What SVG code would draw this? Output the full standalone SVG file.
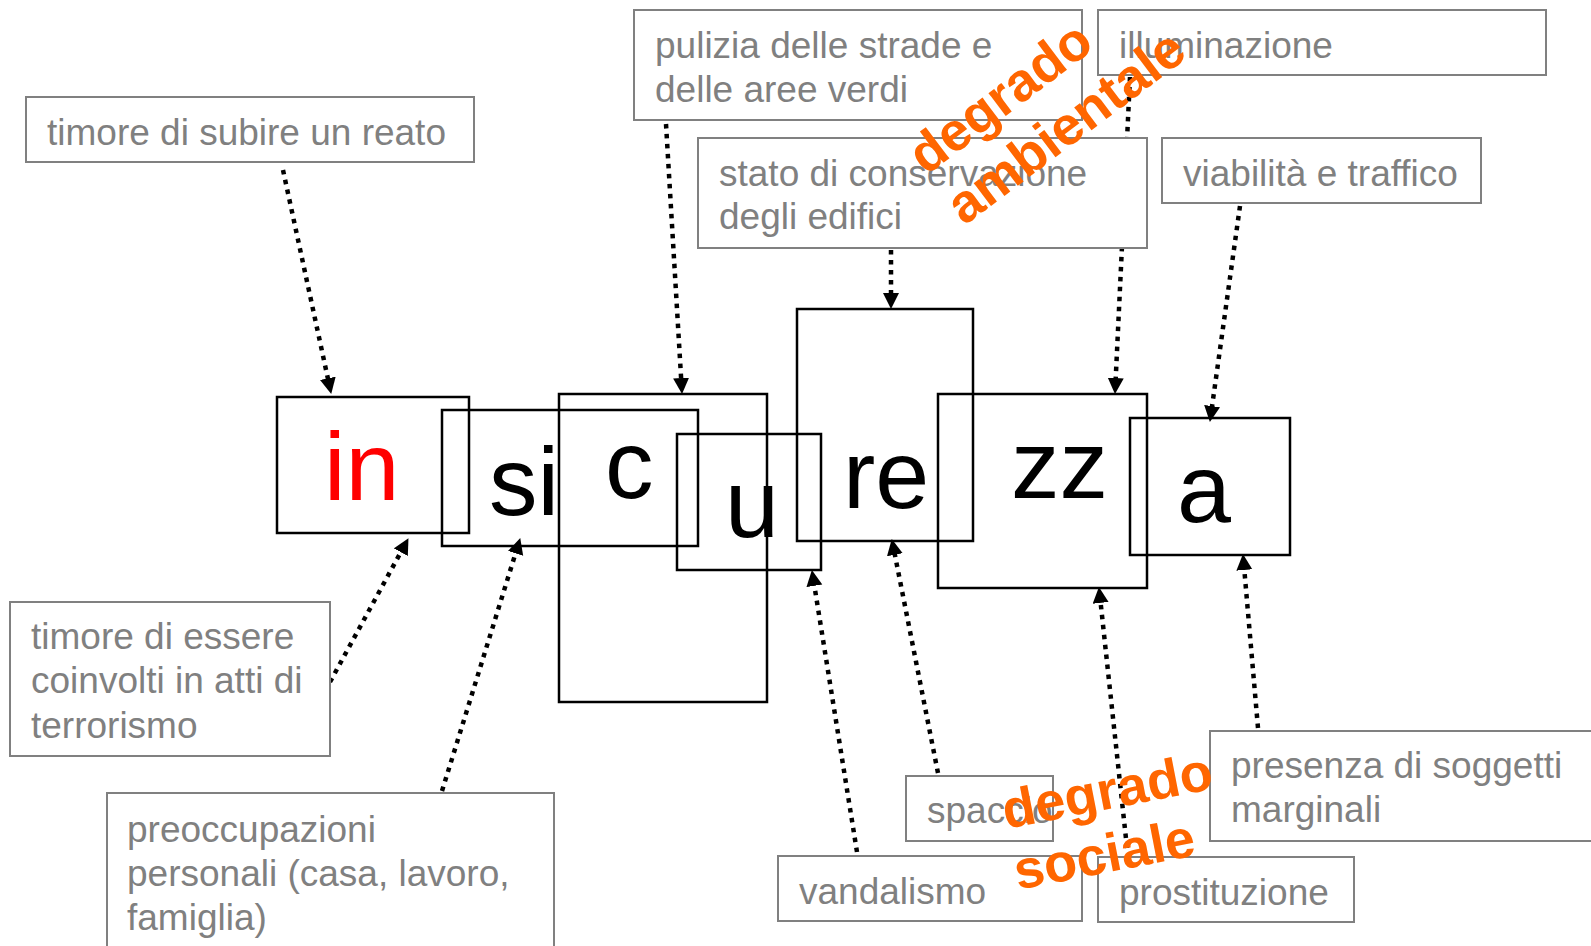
<svg xmlns="http://www.w3.org/2000/svg" width="1591" height="946" viewBox="0 0 1591 946">
<defs>
<style>
.lbl rect{fill:#fff;stroke:#808080;stroke-width:2}
.lbl text{font-family:"Liberation Sans",Arial,sans-serif;font-size:37px;fill:#808080}
.let rect{fill:none;stroke:#000;stroke-width:2.5}
.let text{font-family:"Liberation Sans",Arial,sans-serif;font-size:97px;fill:#000}
.con line{stroke:#000;stroke-width:4.5;stroke-dasharray:4.5 5.5;marker-end:url(#ah)}
.org{font-family:"Liberation Sans",Arial,sans-serif;font-weight:bold;font-size:54px;fill:#FF6600}
</style>
<marker id="ah" markerWidth="17" markerHeight="17" refX="5" refY="8" orient="auto" markerUnits="userSpaceOnUse"><path d="M0,0 L16,8 L0,16 z" fill="#000"/></marker>
</defs>
<rect width="1591" height="946" fill="#fff"/>
<g id="connectors" class="con">
<line x1="283" y1="170" x2="328.9" y2="383.2"/>
<line x1="666" y1="124" x2="681.4" y2="383"/>
<line x1="891" y1="250" x2="891" y2="298"/>
<line x1="1130" y1="77" x2="1115.5" y2="383"/>
<line x1="1240" y1="206" x2="1211.4" y2="411"/>
<line x1="330" y1="682" x2="403.2" y2="547.8"/>
<line x1="442" y1="791" x2="517" y2="548.6"/>
<line x1="857" y1="852" x2="813.6" y2="580.9"/>
<line x1="938" y1="773" x2="893.9" y2="549.8"/>
<line x1="1127" y1="848" x2="1100.1" y2="597.9"/>
<line x1="1258" y1="728" x2="1243.9" y2="565"/>
</g>
<g id="n-reato" class="lbl"><rect x="26" y="97" width="448" height="65"/><text x="47" y="144.5">timore di subire un reato</text></g>
<g id="n-pulizia" class="lbl"><rect x="634" y="10" width="448" height="110"/><text x="655" y="57.5">pulizia delle strade e</text><text x="655" y="101.5">delle aree verdi</text></g>
<g id="n-illuminazione" class="lbl"><rect x="1098" y="10" width="448" height="65"/><text x="1119" y="57.5">illuminazione</text></g>
<g id="n-stato" class="lbl"><rect x="698" y="138" width="449" height="110"/><text x="719" y="186">stato di conservazione</text><text x="719" y="229">degli edifici</text></g>
<g id="n-viabilita" class="lbl"><rect x="1162" y="138" width="319" height="65"/><text x="1183" y="186">viabilità e traffico</text></g>
<g id="n-terrorismo" class="lbl"><rect x="10" y="602" width="320" height="154"/><text x="31" y="649">timore di essere</text><text x="31" y="693">coinvolti in atti di</text><text x="31" y="738">terrorismo</text></g>
<g id="n-preoccupazioni" class="lbl"><rect x="107" y="793" width="447" height="170"/><text x="127" y="841.5">preoccupazioni</text><text x="127" y="885.5">personali (casa, lavoro,</text><text x="127" y="929.5">famiglia)</text></g>
<g id="n-spaccio" class="lbl"><rect x="906" y="776" width="147" height="65"/><text x="927" y="823">spaccio</text></g>
<g id="n-vandalismo" class="lbl"><rect x="778" y="856" width="304" height="65"/><text x="799" y="904">vandalismo</text></g>
<g id="n-prostituzione" class="lbl"><rect x="1098" y="857" width="256" height="65"/><text x="1119" y="905">prostituzione</text></g>
<g id="n-presenza" class="lbl"><rect x="1210" y="731" width="400" height="110"/><text x="1231" y="778">presenza di soggetti</text><text x="1231" y="822">marginali</text></g>
<g id="l-in" class="let"><rect x="277" y="397" width="192" height="136"/><text x="324" y="500" style="fill:#FF0000">in</text></g>
<g id="l-si" class="let"><rect x="442" y="410" width="256" height="136"/><text x="489" y="515">si</text></g>
<g id="l-c" class="let"><rect x="559" y="394" width="208" height="308"/><text x="605" y="498">c</text></g>
<g id="l-u" class="let"><rect x="677" y="434" width="144" height="136"/><text x="725" y="537">u</text></g>
<g id="l-re" class="let"><rect x="797" y="309" width="176" height="232"/><text x="843" y="508">re</text></g>
<g id="l-zz" class="let"><rect x="938" y="394" width="209" height="194"/><text x="1011" y="498">zz</text></g>
<g id="l-a" class="let"><rect x="1130" y="418" width="160" height="137"/><text x="1177" y="522">a</text></g>
<g id="t-ambientale"><text class="org" transform="translate(926,176) rotate(-37)"><tspan x="0" y="0">degrado</tspan><tspan x="0" y="63">ambientale</tspan></text></g>
<g id="t-sociale"><text class="org" transform="translate(1006,829) rotate(-11)"><tspan x="0" y="0">degrado</tspan><tspan x="0" y="62">sociale</tspan></text></g>
</svg>
